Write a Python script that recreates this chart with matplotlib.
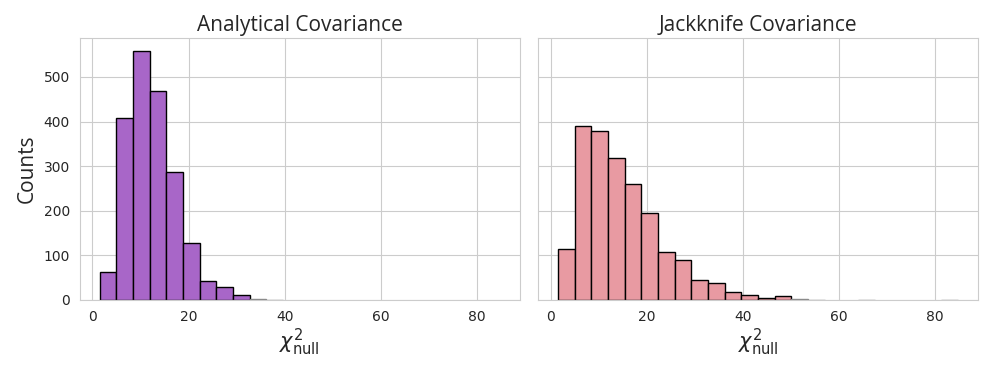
import numpy as np
import matplotlib
matplotlib.use("Agg")
import matplotlib.pyplot as plt
import seaborn as sns

# shared bin edges for the chi^2_null histograms
bin_edges = np.linspace(1.5, 84.8, 25)

analytical_counts = [63, 408, 559, 469, 287, 128, 43, 28, 11, 2, 1, 0,
                     0, 0, 0, 0, 0, 0, 0, 0, 0, 0, 0, 0]
jackknife_counts = [114, 390, 378, 318, 261, 196, 107, 89, 45, 37, 17, 11,
                    5, 8, 2, 1, 0, 0, 1, 0, 0, 0, 0, 1]

titles = ["Analytical Covariance", "Jackknife Covariance"]
colors = ["#a866c8", "#e89aa2"]

sns.set_style("whitegrid")

fig, axes = plt.subplots(1, 2, figsize=(9.96, 3.74), dpi=100, sharex=True, sharey=True)
fig.subplots_adjust(left=0.080, right=0.982, top=0.898, bottom=0.198, wspace=0.041)

centers = (bin_edges[:-1] + bin_edges[1:]) / 2
for ax, counts, title, color in zip(axes, [analytical_counts, jackknife_counts], titles, colors):
    _, _, patches = ax.hist(centers, bins=bin_edges, weights=counts, color=color,
                            edgecolor="black", linewidth=1.0)
    # empty bins are not drawn
    for p, c in zip(patches, counts):
        if c == 0:
            p.set_visible(False)
        elif c < 3:
            p.set_edgecolor("#888888")
    ax.set_title(title, fontsize=15, family="Open Sans", pad=5)
    ax.set_xlabel(r"$\chi^2_{\rm null}$", fontsize=15, labelpad=2)
    ax.tick_params(labelsize=10, colors="#262626")
    for s in ax.spines.values():
        s.set_color("#cccccc")

axes[0].set_ylabel("Counts", fontsize=15, family="Open Sans")
axes[0].set_xticks([0, 20, 40, 60, 80])
axes[0].set_yticks([0, 100, 200, 300, 400, 500])

fig.savefig("out.png", dpi=100)
